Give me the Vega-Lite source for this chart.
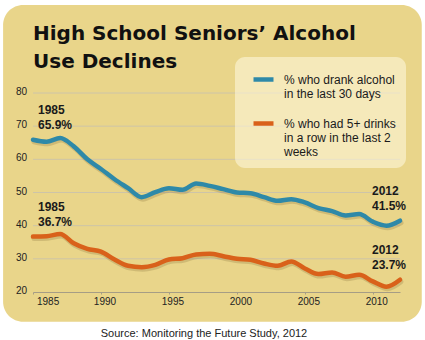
{
  "$schema": "https://vega.github.io/schema/vega-lite/v6.json",
  "width": 367,
  "height": 199,
  "autosize": {"type": "none"},
  "padding": {"left": 33, "top": 93, "right": 25, "bottom": 48},
  "background": "white",
  "config": {
    "view": {"stroke": null},
    "font": "Liberation Sans",
    "axisX": {"domainColor": "#a69d85", "tickColor": "#a69d85", "zindex": 1, "grid": false}
  },
  "title": {
    "text": ["High School Seniors’ Alcohol", "Use Declines"],
    "anchor": "start",
    "frame": "group",
    "font": "DejaVu Sans",
    "fontSize": 20,
    "fontWeight": "bold",
    "color": "#111111",
    "lineHeight": 28,
    "offset": -67,
    "dx": 0
  },
  "datasets": {
    "series": [
      {"year": 1985, "value": 65.9, "series": "% who drank alcohol|in the last 30 days"},
      {"year": 1986, "value": 65.3, "series": "% who drank alcohol|in the last 30 days"},
      {"year": 1987, "value": 66.4, "series": "% who drank alcohol|in the last 30 days"},
      {"year": 1988, "value": 63.9, "series": "% who drank alcohol|in the last 30 days"},
      {"year": 1989, "value": 60.0, "series": "% who drank alcohol|in the last 30 days"},
      {"year": 1990, "value": 57.1, "series": "% who drank alcohol|in the last 30 days"},
      {"year": 1991, "value": 54.0, "series": "% who drank alcohol|in the last 30 days"},
      {"year": 1992, "value": 51.3, "series": "% who drank alcohol|in the last 30 days"},
      {"year": 1993, "value": 48.6, "series": "% who drank alcohol|in the last 30 days"},
      {"year": 1994, "value": 50.1, "series": "% who drank alcohol|in the last 30 days"},
      {"year": 1995, "value": 51.3, "series": "% who drank alcohol|in the last 30 days"},
      {"year": 1996, "value": 50.8, "series": "% who drank alcohol|in the last 30 days"},
      {"year": 1997, "value": 52.7, "series": "% who drank alcohol|in the last 30 days"},
      {"year": 1998, "value": 52.0, "series": "% who drank alcohol|in the last 30 days"},
      {"year": 1999, "value": 51.0, "series": "% who drank alcohol|in the last 30 days"},
      {"year": 2000, "value": 50.0, "series": "% who drank alcohol|in the last 30 days"},
      {"year": 2001, "value": 49.8, "series": "% who drank alcohol|in the last 30 days"},
      {"year": 2002, "value": 48.6, "series": "% who drank alcohol|in the last 30 days"},
      {"year": 2003, "value": 47.5, "series": "% who drank alcohol|in the last 30 days"},
      {"year": 2004, "value": 48.0, "series": "% who drank alcohol|in the last 30 days"},
      {"year": 2005, "value": 47.0, "series": "% who drank alcohol|in the last 30 days"},
      {"year": 2006, "value": 45.3, "series": "% who drank alcohol|in the last 30 days"},
      {"year": 2007, "value": 44.4, "series": "% who drank alcohol|in the last 30 days"},
      {"year": 2008, "value": 43.1, "series": "% who drank alcohol|in the last 30 days"},
      {"year": 2009, "value": 43.5, "series": "% who drank alcohol|in the last 30 days"},
      {"year": 2010, "value": 41.2, "series": "% who drank alcohol|in the last 30 days"},
      {"year": 2011, "value": 40.0, "series": "% who drank alcohol|in the last 30 days"},
      {"year": 2012, "value": 41.5, "series": "% who drank alcohol|in the last 30 days"},
      {"year": 1985, "value": 36.7, "series": "% who had 5+ drinks|in a row in the last 2|weeks"},
      {"year": 1986, "value": 36.8, "series": "% who had 5+ drinks|in a row in the last 2|weeks"},
      {"year": 1987, "value": 37.5, "series": "% who had 5+ drinks|in a row in the last 2|weeks"},
      {"year": 1988, "value": 34.7, "series": "% who had 5+ drinks|in a row in the last 2|weeks"},
      {"year": 1989, "value": 33.0, "series": "% who had 5+ drinks|in a row in the last 2|weeks"},
      {"year": 1990, "value": 32.2, "series": "% who had 5+ drinks|in a row in the last 2|weeks"},
      {"year": 1991, "value": 29.8, "series": "% who had 5+ drinks|in a row in the last 2|weeks"},
      {"year": 1992, "value": 27.9, "series": "% who had 5+ drinks|in a row in the last 2|weeks"},
      {"year": 1993, "value": 27.5, "series": "% who had 5+ drinks|in a row in the last 2|weeks"},
      {"year": 1994, "value": 28.2, "series": "% who had 5+ drinks|in a row in the last 2|weeks"},
      {"year": 1995, "value": 29.8, "series": "% who had 5+ drinks|in a row in the last 2|weeks"},
      {"year": 1996, "value": 30.2, "series": "% who had 5+ drinks|in a row in the last 2|weeks"},
      {"year": 1997, "value": 31.3, "series": "% who had 5+ drinks|in a row in the last 2|weeks"},
      {"year": 1998, "value": 31.5, "series": "% who had 5+ drinks|in a row in the last 2|weeks"},
      {"year": 1999, "value": 30.8, "series": "% who had 5+ drinks|in a row in the last 2|weeks"},
      {"year": 2000, "value": 30.0, "series": "% who had 5+ drinks|in a row in the last 2|weeks"},
      {"year": 2001, "value": 29.7, "series": "% who had 5+ drinks|in a row in the last 2|weeks"},
      {"year": 2002, "value": 28.6, "series": "% who had 5+ drinks|in a row in the last 2|weeks"},
      {"year": 2003, "value": 27.9, "series": "% who had 5+ drinks|in a row in the last 2|weeks"},
      {"year": 2004, "value": 29.2, "series": "% who had 5+ drinks|in a row in the last 2|weeks"},
      {"year": 2005, "value": 27.1, "series": "% who had 5+ drinks|in a row in the last 2|weeks"},
      {"year": 2006, "value": 25.4, "series": "% who had 5+ drinks|in a row in the last 2|weeks"},
      {"year": 2007, "value": 25.9, "series": "% who had 5+ drinks|in a row in the last 2|weeks"},
      {"year": 2008, "value": 24.6, "series": "% who had 5+ drinks|in a row in the last 2|weeks"},
      {"year": 2009, "value": 25.2, "series": "% who had 5+ drinks|in a row in the last 2|weeks"},
      {"year": 2010, "value": 23.2, "series": "% who had 5+ drinks|in a row in the last 2|weeks"},
      {"year": 2011, "value": 21.6, "series": "% who had 5+ drinks|in a row in the last 2|weeks"},
      {"year": 2012, "value": 23.7, "series": "% who had 5+ drinks|in a row in the last 2|weeks"}
    ],
    "notes": [
      {"year": 1985, "value": 65.9, "label": "1985\n65.9%", "side": "start"},
      {"year": 1985, "value": 36.7, "label": "1985\n36.7%", "side": "start"},
      {"year": 2012, "value": 41.5, "label": "2012\n41.5%", "side": "end"},
      {"year": 2012, "value": 23.7, "label": "2012\n23.7%", "side": "end"}
    ],
    "gridlines": [
      {"tick": 20, "start": 1985}, {"tick": 30, "start": 1985}, {"tick": 40, "start": 1985}, {"tick": 50, "start": 1985},
      {"tick": 60, "start": 1985}, {"tick": 70, "start": 1985}, {"tick": 80, "start": 1985}
    ]
  },
  "layer": [
    {
      "data": {"values": [{}]},
      "mark": {"type": "rect", "color": "#E9D58A", "cornerRadius": 20, "clip": false},
      "encoding": {
        "x": {"datum": 1982.8, "type": "quantitative"},
        "x2": {"datum": 2013.6},
        "y": {"datum": 106.5, "type": "quantitative", "axis": null},
        "y2": {"datum": 11.0}
      }
    },
    {
      "data": {"name": "gridlines"},
      "transform": [{"filter": "datum.tick > 20"}],
      "mark": {"type": "rule", "color": "#cdc4a8", "strokeWidth": 1},
      "encoding": {
        "y": {"field": "tick", "type": "quantitative"}
      }
    },
    {
      "data": {"name": "gridlines"},
      "mark": {"type": "text", "align": "right", "baseline": "middle", "dx": -6, "dy": -1, "font": "Liberation Sans", "fontSize": 10, "color": "#222222"},
      "encoding": {
        "x": {"field": "start", "type": "quantitative"},
        "y": {"field": "tick", "type": "quantitative"},
        "text": {"field": "tick", "type": "quantitative"}
      }
    },
    {
      "data": {"name": "series"},
      "mark": {"type": "line", "interpolate": "monotone", "strokeWidth": 5, "color": "#5a4416", "opacity": 0.18, "xOffset": 1, "yOffset": 2, "strokeCap": "round"},
      "encoding": {
        "x": {"field": "year", "type": "quantitative"},
        "y": {"field": "value", "type": "quantitative"},
        "detail": {"field": "series"}
      }
    },
    {
      "data": {"name": "series"},
      "mark": {"type": "line", "interpolate": "monotone", "strokeWidth": 4.5, "strokeCap": "round"},
      "encoding": {
        "x": {
          "field": "year",
          "type": "quantitative",
          "scale": {"domain": [1985, 2012], "nice": false, "zero": false},
          "axis": {
            "zindex": 1,
            "values": [1985, 1990, 1995, 2000, 2005, 2010],
            "format": "d",
            "grid": false,
            "domainColor": "#a69d85",
            "tickColor": "#a69d85",
            "tickSize": 2,
            "labelFontSize": 10,
            "labelColor": "#222222",
            "labelPadding": 2,
            "labelOffset": 3.5,
            "labelOverlap": false,
            "title": "Source: Monitoring the Future Study, 2012",
            "titleFont": "Liberation Sans",
            "titleFontSize": 11,
            "titleFontWeight": "normal",
            "titleColor": "#222222",
            "titleX": 170.5,
            "titleY": 44,
            "titleAlign": "center",
            "titleBaseline": "alphabetic"
          }
        },
        "y": {
          "field": "value",
          "type": "quantitative",
          "scale": {"domain": [20, 80], "nice": false, "zero": false}
        },
        "color": {
          "field": "series",
          "type": "nominal",
          "scale": {
            "domain": ["% who drank alcohol|in the last 30 days", "% who had 5+ drinks|in a row in the last 2|weeks"],
            "range": ["#2E89A8", "#D9611A"]
          },
          "legend": {
            "orient": "none",
            "legendX": 202,
            "legendY": -36,
            "title": null,
            "symbolType": "stroke",
            "symbolStrokeWidth": 4.5,
            "symbolSize": 400,
            "symbolOffset": 6,
            "labelFont": "Liberation Sans",
            "labelFontSize": 12,
            "labelColor": "#1a1a1a",
            "labelExpr": "split(datum.label, '|')",
            "labelLimit": 200,
            "labelOffset": 8,
            "labelBaseline": "top",
            "fillColor": "rgba(255,249,225,0.55)",
            "cornerRadius": 10,
            "padding": 10,
            "rowPadding": 11,
            "encode": {
              "labels": {"update": {"dy": {"value": -5}}}
            }
          }
        }
      }
    },
    {
      "data": {"name": "notes"},
      "transform": [{"filter": "datum.side == 'start'"}],
      "mark": {"type": "text", "align": "left", "baseline": "alphabetic", "dx": 5, "dy": -26, "lineBreak": "\n", "lineHeight": 15, "font": "Liberation Sans", "fontSize": 12, "fontWeight": "bold", "color": "#1a1a1a"},
      "encoding": {
        "x": {"field": "year", "type": "quantitative"},
        "y": {"field": "value", "type": "quantitative"},
        "text": {"field": "label"}
      }
    },
    {
      "data": {"name": "notes"},
      "transform": [{"filter": "datum.side == 'end'"}],
      "mark": {"type": "text", "align": "left", "baseline": "alphabetic", "dx": -28, "dy": -26, "lineBreak": "\n", "lineHeight": 15, "font": "Liberation Sans", "fontSize": 12, "fontWeight": "bold", "color": "#1a1a1a"},
      "encoding": {
        "x": {"field": "year", "type": "quantitative"},
        "y": {"field": "value", "type": "quantitative"},
        "text": {"field": "label"}
      }
    }
  ]
}
